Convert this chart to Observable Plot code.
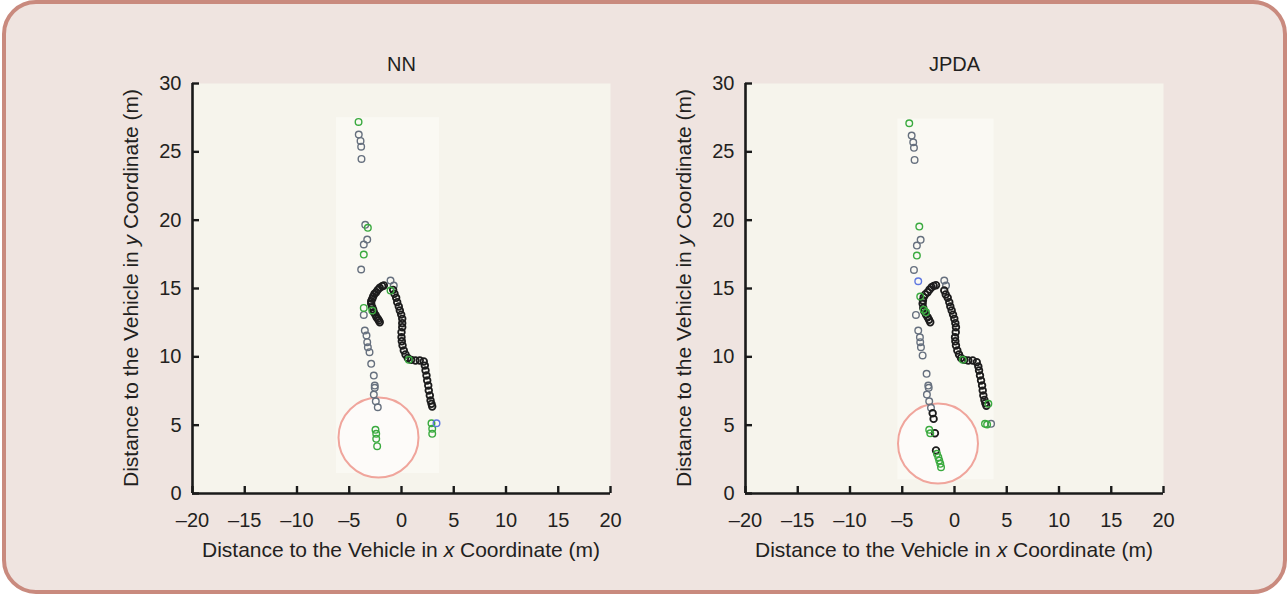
<!DOCTYPE html>
<html>
<head>
<meta charset="utf-8">
<script src="https://cdn.jsdelivr.net/npm/d3@7"></script>
<script src="https://cdn.jsdelivr.net/npm/@observablehq/plot@0.6"></script>
<style>
  html, body { margin: 0; padding: 0; background: #ffffff; }
  body { width: 1287px; height: 594px; position: relative; overflow: hidden;
         font-family: "Liberation Sans", Arial, Helvetica, sans-serif; }
  #panel { position: absolute; left: 2px; top: 0; width: 1285px; height: 594px; box-sizing: border-box;
           background: #efe4e0; border: 4px solid #c98a7e; border-radius: 34px; }
  .chart { position: absolute; top: 40px; }
</style>
</head>
<body>
<div id="panel"></div>
<div id="left" class="chart" style="left:100px"></div>
<div id="right" class="chart" style="left:653px"></div>
<script>
// ---------- data ----------
const titles = ["NN", "JPDA"];
const xTicks = [-20, -15, -10, -5, 0, 5, 10, 15, 20];
const yTicks = [0, 5, 10, 15, 20, 25, 30];
const xLabelParts = ["Distance to the Vehicle in ", "x", " Coordinate (m)"];
const yLabelParts = ["Distance to the Vehicle in ", "y", " Coordinate (m)"];

// NN panel
const nnDetections = [[-4.09,26.26],[-3.92,25.80],[-3.86,25.38],[-3.83,24.48],[-3.47,19.66],[-3.28,18.58],[-3.61,18.22],[-3.86,16.39],[-1.05,15.58],[-0.74,15.22],[-3.61,13.07],[-3.51,11.92],[-3.35,11.56],[-3.28,11.07],[-3.22,10.70],[-3.06,10.34],[-2.90,9.49],[-2.65,8.63],[-2.56,7.90],[-2.56,7.73],[-2.65,7.24],[-2.46,6.75],[-2.27,6.31]];
const nnTrackA = [[-2.08,12.53],[-2.17,12.66],[-2.27,12.78],[-2.39,12.90],[-2.49,13.07],[-2.65,13.26],[-2.71,13.44],[-2.80,13.63],[-2.90,13.88],[-2.90,14.07],[-2.80,14.24],[-2.71,14.41],[-2.58,14.61],[-2.42,14.73],[-2.27,14.90],[-2.08,15.05],[-1.85,15.17],[-1.69,15.22]];
const nnTrackB = [[-0.80,14.90],[-0.67,14.61],[-0.51,14.32],[-0.41,14.00],[-0.26,13.68],[-0.16,13.39],[-0.03,13.09],[0.07,12.78],[0.07,12.46],[0.07,12.17],[0.00,11.80],[0.00,11.43],[0.03,11.14],[0.10,10.83],[0.22,10.46],[0.38,10.17],[0.60,9.92],[0.93,9.78],[1.34,9.73],[1.75,9.73],[2.13,9.66],[2.23,9.36],[2.30,9.00],[2.39,8.63],[2.46,8.27],[2.56,7.90],[2.61,7.53],[2.71,7.17],[2.78,6.80],[2.87,6.56],[2.94,6.36]];
const nnGreen = [[-4.11,27.19],[-3.22,19.44],[-3.61,17.48],[-1.05,14.85],[-3.61,13.58],[-2.80,13.39],[0.70,9.78],[-2.49,4.66],[-2.42,4.37],[-2.42,4.00],[-2.33,3.46],[2.87,5.14],[2.94,4.73],[2.94,4.37]];
const nnBlue = [[3.35,5.14]];
const nnHighlight = [[-2.20,4.10]];
const nnImageArea = [[-6.22,3.64,1.46,27.5]];

// JPDA panel
const jpdaDetections = [[-4.10,26.19],[-3.95,25.70],[-3.88,25.29],[-3.82,24.41],[-3.24,18.56],[-3.60,18.14],[-3.88,16.36],[-0.98,15.58],[-0.81,15.22],[-3.69,13.07],[-3.47,11.92],[-3.31,11.43],[-3.28,11.07],[-3.21,10.70],[-3.05,10.10],[-2.67,8.76],[-2.51,7.90],[-2.47,7.73],[-2.64,7.24],[-2.42,6.75],[-2.25,6.27],[3.50,5.10]];
const jpdaTrackA = [[-2.32,12.53],[-2.44,12.71],[-2.57,12.90],[-2.73,13.09],[-2.90,13.34],[-2.99,13.58],[-3.05,13.88],[-3.02,14.12],[-2.95,14.36],[-2.80,14.56],[-2.57,14.73],[-2.38,14.92],[-2.19,15.09],[-1.99,15.19],[-1.77,15.24]];
const jpdaTrackB = [[-0.98,14.85],[-0.84,14.56],[-0.65,14.32],[-0.50,14.00],[-0.40,13.68],[-0.27,13.39],[-0.14,13.09],[-0.02,12.78],[0.08,12.46],[0.14,12.17],[0.12,11.80],[0.05,11.43],[0.08,11.14],[0.14,10.83],[0.27,10.46],[0.43,10.17],[0.62,9.92],[0.94,9.78],[1.32,9.73],[1.74,9.73],[2.13,9.61],[2.28,9.29],[2.35,9.00],[2.44,8.63],[2.54,8.27],[2.64,7.90],[2.70,7.53],[2.76,7.17],[2.86,6.85],[2.95,6.61],[3.05,6.42]];
const jpdaTrackC = [[-2.09,5.87],[-2.00,5.46],[-1.87,4.41],[-1.77,3.15]];
const jpdaGreen = [[-4.33,27.09],[-3.37,19.53],[-3.60,17.41],[-3.28,14.41],[-2.95,13.44],[-2.73,13.26],[0.79,9.78],[-2.42,4.66],[-2.32,4.41],[-1.68,2.90],[-1.55,2.66],[-1.46,2.41],[-1.36,2.17],[-1.29,1.92],[3.24,6.56],[2.92,5.10],[3.12,5.05]];
const jpdaBlue = [[-3.47,15.53]];
const jpdaHighlight = [[-1.58,3.66]];
const jpdaImageArea = [[-5.42,3.78,1.0,27.4]];

// ---------- drawing ----------
const TEXT = "#231f20";
const FONT = "'Liberation Sans', Arial, Helvetica, sans-serif";
const fmt = d => d < 0 ? "\u2013" + (-d) : String(d);

function makeChart({title, detections, tracks, green, blue, highlight, imageArea}) {
  const dotOpts = {x: d => d[0], y: d => d[1], r: 3.3, strokeWidth: 1.4, fill: "none"};
  const chart = Plot.plot({
    width: 550, height: 533,
    marginLeft: 92, marginRight: 40, marginTop: 43, marginBottom: 80,
    style: {fontSize: "20px", fontFamily: FONT, color: TEXT, background: "transparent", overflow: "visible"},
    x: {domain: [-20, 20]},
    y: {domain: [0, 30]},
    marks: [
      Plot.frame({fill: "#f6f4ec", stroke: null}),
      Plot.rect(imageArea, {x1: d => d[0], x2: d => d[1], y1: d => d[2], y2: d => d[3], fill: "#faf9f3"}),
      Plot.dot(highlight, {x: d => d[0], y: d => d[1], r: 40, fill: "#fdfbf9", stroke: "#f0a59c", strokeWidth: 2}),
      Plot.dot(detections, {...dotOpts, stroke: "#66707e"}),
      ...tracks.map(t => Plot.dot(t, {...dotOpts, stroke: "#1c1c1c", strokeWidth: 1.8})),
      Plot.dot(green, {...dotOpts, stroke: "#3aaa3f"}),
      Plot.dot(blue, {...dotOpts, stroke: "#5f78e0"}),
      // axis lines
      Plot.ruleX([-20], {y1: 0, y2: 30, stroke: "#1a1a1a", strokeWidth: 2.6}),
      Plot.ruleY([0], {x1: -20, x2: 20, stroke: "#1a1a1a", strokeWidth: 2.6}),
      // inward ticks
      Plot.tickX(xTicks, {x: d => d, insetTop: 403, stroke: "#1a1a1a", strokeWidth: 2.4}),
      Plot.tickY(yTicks, {y: d => d, insetRight: 411, stroke: "#1a1a1a", strokeWidth: 2.4}),
      Plot.axisX(xTicks, {tickSize: 0, tickPadding: 19, tickFormat: fmt, label: null, fill: TEXT}),
      Plot.axisY(yTicks, {tickSize: 0, tickPadding: 11, tickFormat: fmt, label: null, fill: TEXT}),
      Plot.text([title], {frameAnchor: "top", dy: -27, fontSize: 20, fill: TEXT})
    ]
  });
  const svg = d3.select(chart);
  const xl = svg.append("text").attr("x", 301).attr("y", 517).attr("text-anchor", "middle")
    .attr("fill", TEXT).attr("font-size", 21).attr("font-family", FONT);
  xl.append("tspan").text(xLabelParts[0]);
  xl.append("tspan").attr("font-style", "italic").text(xLabelParts[1]);
  xl.append("tspan").text(xLabelParts[2]);
  const yl = svg.append("text").attr("transform", "translate(38,248) rotate(-90)").attr("text-anchor", "middle")
    .attr("fill", TEXT).attr("font-size", 21).attr("font-family", FONT);
  yl.append("tspan").text(yLabelParts[0]);
  yl.append("tspan").attr("font-style", "italic").text(yLabelParts[1]);
  yl.append("tspan").text(yLabelParts[2]);
  return chart;
}

document.getElementById("left").appendChild(makeChart({
  title: titles[0], detections: nnDetections, tracks: [nnTrackA, nnTrackB],
  green: nnGreen, blue: nnBlue, highlight: nnHighlight, imageArea: nnImageArea
}));
document.getElementById("right").appendChild(makeChart({
  title: titles[1], detections: jpdaDetections, tracks: [jpdaTrackA, jpdaTrackB, jpdaTrackC],
  green: jpdaGreen, blue: jpdaBlue, highlight: jpdaHighlight, imageArea: jpdaImageArea
}));
</script>
</body>
</html>
